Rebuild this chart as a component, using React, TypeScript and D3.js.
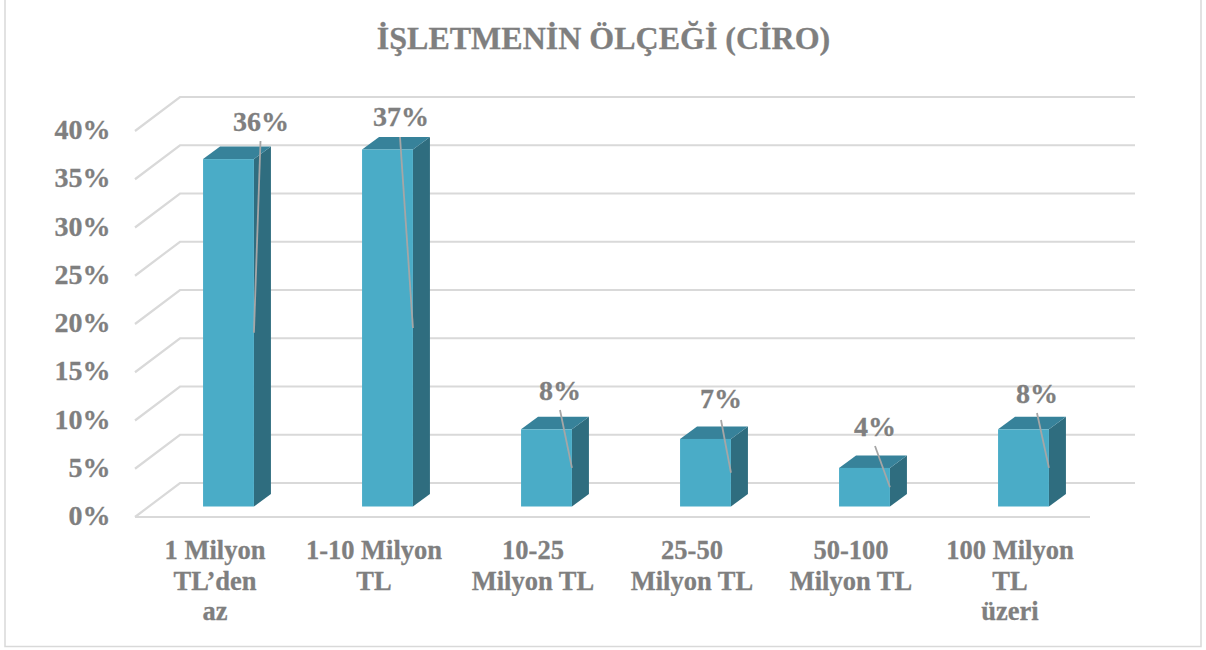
import React, { useRef, useEffect } from 'react';
import * as d3 from 'd3';

const WIDTH = 1206;
const HEIGHT = 650;

const title = 'İŞLETMENİN ÖLÇEĞİ (CİRO)';
const categories = ['c1', 'c2', 'c3', 'c4', 'c5', 'c6'];
const categoryLines = [
  ['1 Milyon', 'TL’den', 'az'],
  ['1-10 Milyon', 'TL'],
  ['10-25', 'Milyon TL'],
  ['25-50', 'Milyon TL'],
  ['50-100', 'Milyon TL'],
  ['100 Milyon', 'TL', 'üzeri'],
];
const values = [36, 37, 8, 7, 4, 8];
const yTicks = [0, 5, 10, 15, 20, 25, 30, 35, 40];

// where Excel left the moved data labels (label centre, leader start)
const labelX = [261, 401, 560, 721, 875, 1037];
const labelY = [121, 116, 390, 398, 426, 393];
const leaderX = [260.5, 400, 560, 721, 875, 1037];
const leaderY = [141, 137, 410, 420, 446, 413];

// 3D offset of the back wall against the front of the floor
const depthX = 45;
const depthY = 34;
const barDepthX = 17;
const barDepthY = 12.5;

const GREY = '#7f7f7f';
const GRID = '#d9d9d9';
const FONT = '"Liberation Serif", "Times New Roman", serif';

const App = () => {
  const svgRef = useRef<SVGSVGElement>(null);

  useEffect(() => {
    const svg = d3.select(svgRef.current);
    svg.selectAll('*').remove();

    // Frame, the top edge is cut off in the picture
    svg.append('rect')
      .attr('x', 5).attr('y', -1)
      .attr('width', 1196).attr('height', 647.5)
      .attr('fill', '#fff')
      .attr('stroke', GRID)
      .attr('stroke-width', 1.5);

    // Slight opacity keeps the text on greyscale antialiasing
    const textStyle = (sel, size) => sel
      .attr('font-family', FONT)
      .attr('font-weight', 'bold')
      .attr('font-size', size)
      .attr('fill', GREY)
      .attr('stroke', GREY)
      .attr('stroke-width', 0.3)
      .style('opacity', 0.999);

    svg.append('text')
      .attr('x', 603.5).attr('y', 49)
      .attr('text-anchor', 'middle')
      .call(textStyle, 32)
      .text(title);

    // y for the front of the floor
    const y = d3.scaleLinear().domain([0, 40]).range([517, 131]);
    const x = d3.scaleBand()
      .domain(categories)
      .range([149, 1103])
      .paddingInner(0.68)
      .paddingOuter(0.34);

    const left = 135;
    const right = 1090;

    // Grid lines: side wall then back wall
    const grid = svg.append('g')
      .attr('stroke', GRID)
      .attr('stroke-width', 2.2)
      .attr('fill', 'none');
    grid.selectAll('path')
      .data(yTicks)
      .enter()
      .append('path')
      .attr('d', d => `M${left},${y(d)}L${left + depthX},${y(d) - depthY}L${right + depthX},${y(d) - depthY}`);
    grid.append('path')
      .attr('d', `M${left},${y(0)}L${right},${y(0)}`);

    svg.append('g')
      .selectAll('text')
      .data(yTicks)
      .enter()
      .append('text')
      .attr('x', 110.5)
      .attr('y', d => y(d) + 8)
      .attr('text-anchor', 'end')
      .call(textStyle, 28)
      .text(d => `${d}%`);

    // Bars stand on a floor line 10.5px behind the front edge
    const barY = d3.scaleLinear().domain([0, 40]).range([506.5, 120.5]);
    const bars = svg.append('g')
      .selectAll('g')
      .data(values)
      .enter()
      .append('g');

    bars.append('path')
      .attr('fill', '#2f6d7f')
      .attr('d', (d, i) => {
        const x1 = x(categories[i]) + x.bandwidth();
        return `M${x1},${barY(d)}l${barDepthX},${-barDepthY}L${x1 + barDepthX},${barY(0) - barDepthY}L${x1},${barY(0)}Z`;
      });
    bars.append('path')
      .attr('fill', '#37829a')
      .attr('d', (d, i) => {
        const x0 = x(categories[i]);
        return `M${x0},${barY(d)}l${barDepthX},${-barDepthY}h${x.bandwidth()}l${-barDepthX},${barDepthY}Z`;
      });
    bars.append('rect')
      .attr('x', (d, i) => x(categories[i]))
      .attr('y', d => barY(d))
      .attr('width', x.bandwidth())
      .attr('height', d => barY(0) - barY(d))
      .attr('fill', '#4aacc7');

    // Leader lines go to the middle of the bar's right edge
    bars.append('line')
      .attr('x1', (d, i) => leaderX[i])
      .attr('y1', (d, i) => leaderY[i])
      .attr('x2', (d, i) => x(categories[i]) + x.bandwidth())
      .attr('y2', d => barY(d / 2))
      .attr('stroke', '#a6a6a6')
      .attr('stroke-width', 1.8);

    bars.append('text')
      .attr('x', (d, i) => labelX[i])
      .attr('y', (d, i) => labelY[i] + 9.5)
      .attr('text-anchor', 'middle')
      .call(textStyle, 28)
      .text(d => `${d}%`);

    // Category labels, centred on the front of the floor
    const cats = svg.append('g')
      .selectAll('text')
      .data(categoryLines)
      .enter()
      .append('text')
      .attr('text-anchor', 'middle')
      .call(textStyle, 26.5);
    cats.selectAll('tspan')
      .data((lines, i) => lines.map(line => ({ line, cx: x(categories[i]) + x.bandwidth() / 2 - 13.5 })))
      .enter()
      .append('tspan')
      .attr('x', d => d.cx)
      .attr('y', (d, i) => 559 + i * 30.5)
      .text(d => d.line);
  }, []);

  return <svg ref={svgRef} width={WIDTH} height={HEIGHT} style={{ position: 'absolute', left: 0, top: 0 }}></svg>;
};

export default App;
